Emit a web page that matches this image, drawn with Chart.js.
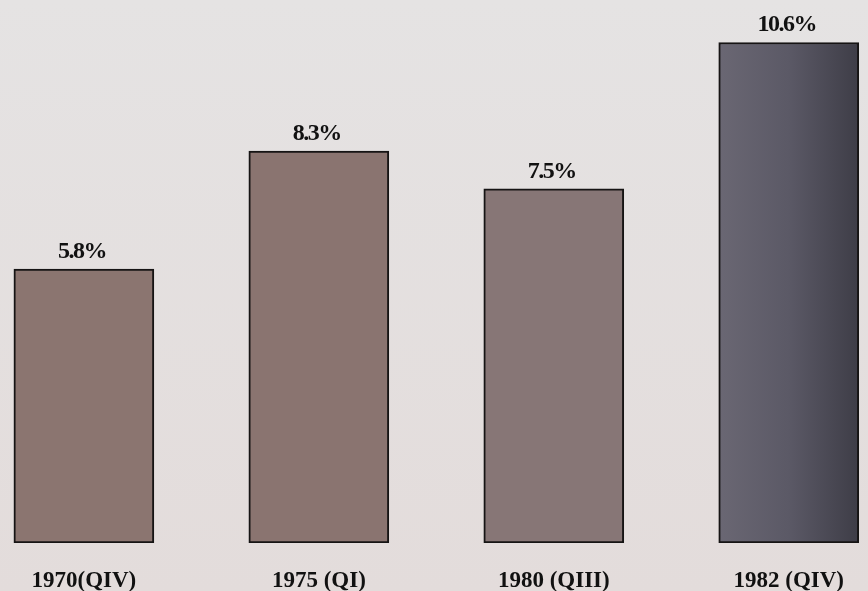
<!DOCTYPE html>
<html>
<head>
<meta charset="utf-8">
<script src="https://cdn.jsdelivr.net/npm/chart.js@4/dist/chart.umd.min.js"></script>
<style>
  html, body { margin: 0; padding: 0; background: #e3dfde; }
  #wrap { width: 868px; height: 591px; }
</style>
</head>
<body>
<div id="wrap"><canvas id="chart" width="868" height="591"></canvas></div>
<script>
// Quarterly rates shown as percentages
const periods = ['1970(QIV)', '1975 (QI)', '1980 (QIII)', '1982 (QIV)'];
const rates = [5.8, 8.3, 7.5, 10.6];
const barColors = ['#8b7570', '#8a7470', '#877676', null]; // last bar uses a gradient

const SERIF = '"Liberation Serif", "DejaVu Serif", serif';
const BAR_WIDTH = 140;

// Fill the page background
const backgroundPlugin = {
  id: 'paper',
  beforeDraw(chart) {
    const { ctx, width, height } = chart;
    const g = ctx.createLinearGradient(0, 0, 0, height);
    g.addColorStop(0, '#e5e3e3');
    g.addColorStop(1, '#e3dcdb');
    ctx.save();
    ctx.fillStyle = g;
    ctx.fillRect(0, 0, width, height);
    ctx.restore();
  }
};

// Percentage label above each bar
const valueLabels = {
  id: 'valueLabels',
  afterDatasetsDraw(chart) {
    const { ctx } = chart;
    const meta = chart.getDatasetMeta(0);
    ctx.save();
    ctx.font = 'bold 24px ' + SERIF;
    ctx.fillStyle = '#111';
    ctx.textAlign = 'center';
    ctx.textBaseline = 'alphabetic';
    if ('letterSpacing' in ctx) ctx.letterSpacing = '-1.5px';
    meta.data.forEach((bar, i) => {
      ctx.fillText(rates[i].toFixed(1) + '%', bar.x - 2, bar.y - 11);
    });
    ctx.restore();
  }
};

function barFill(context) {
  const i = context.dataIndex;
  if (barColors[i]) return barColors[i];
  const chart = context.chart;
  const xScale = chart.scales && chart.scales.x;
  const cx = xScale ? xScale.getPixelForValue(i) : NaN;
  if (!Number.isFinite(cx)) return '#5c5a66';
  const half = BAR_WIDTH / 2;
  const g = chart.ctx.createLinearGradient(cx - half, 0, cx + half, 0);
  g.addColorStop(0, '#6a6773');
  g.addColorStop(0.5, '#5b5966');
  g.addColorStop(1, '#3e3d47');
  return g;
}

new Chart(document.getElementById('chart'), {
  type: 'bar',
  data: {
    datasets: [{
      data: periods.map((p, i) => ({ x: i, y: rates[i] })),
      backgroundColor: barFill,
      borderColor: '#161414',
      borderWidth: 2,
      borderSkipped: false,
      barThickness: BAR_WIDTH
    }]
  },
  options: {
    responsive: false,
    animation: false,
    layout: { padding: 0 },
    plugins: {
      legend: { display: false },
      tooltip: { enabled: false }
    },
    scales: {
      x: {
        type: 'linear',
        offset: false,
        min: -0.357,
        max: 3.332,
        grid: { display: false, drawTicks: false },
        border: { display: false },
        afterBuildTicks(scale) {
          scale.ticks = periods.map((_, i) => ({ value: i }));
        },
        afterFit(scale) {
          scale.height = 48;
        },
        ticks: {
          autoSkip: false,
          maxRotation: 0,
          padding: 24,
          color: '#111',
          font: { family: SERIF, size: 23, weight: 'bold' },
          callback: (v) => periods[v]
        }
      },
      y: {
        display: false,
        min: 0,
        max: 11.5
      }
    }
  },
  plugins: [backgroundPlugin, valueLabels]
});
</script>
</body>
</html>
